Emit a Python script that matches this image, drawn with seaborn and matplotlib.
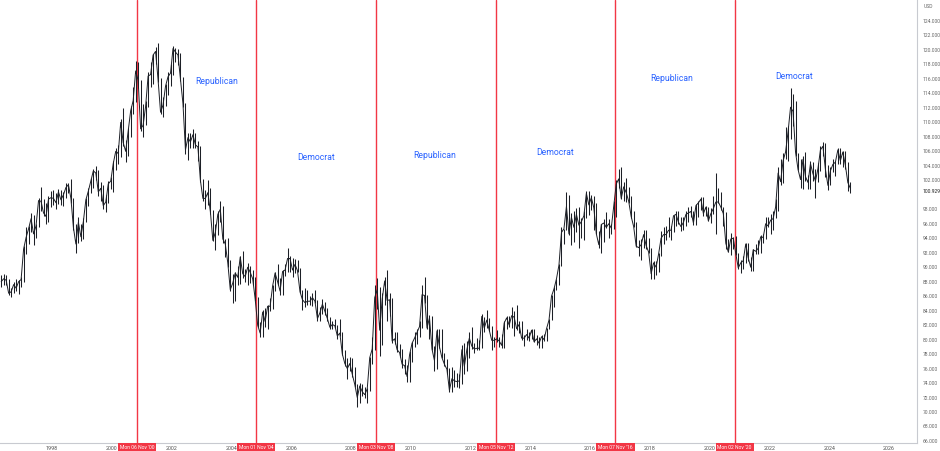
import numpy as np
import pandas as pd
import matplotlib
matplotlib.use("Agg")
import matplotlib.pyplot as plt
import seaborn as sns

# ---- Data: US Dollar Index, monthly bars Apr 1996 .. Sep 2024 ----
start_month = "1996-04"
end_month = "2024-09"

close = [
    88.0, 88.4, 88.2, 86.4, 86.6, 87.6, 87.1, 88.0, 88.3,                  # 1996 Apr-Dec
    92.5, 94.1, 95.3, 96.7, 94.6, 95.7, 99.2, 99.1, 97.5, 97.0, 99.4, 99.6,  # 1997
    99.5, 98.9, 100.4, 99.3, 100.0, 101.0, 101.4, 99.5, 95.5, 93.2, 96.2, 94.2,  # 1998
    96.3, 99.3, 100.5, 101.9, 103.3, 103.0, 100.4, 100.9, 98.5, 99.0, 101.5, 101.9,  # 1999
    104.3, 106.0, 105.7, 110.0, 107.2, 106.0, 108.8, 111.6, 113.0, 117.1, 115.8, 109.1,  # 2000
    109.6, 112.2, 116.4, 116.6, 119.3, 119.8, 115.9, 111.4, 112.4, 115.0, 116.3, 116.8,  # 2001
    120.2, 119.7, 119.3, 116.0, 112.6, 106.2, 107.9, 107.3, 108.3, 106.9, 106.6, 102.0,  # 2002
    99.5, 99.5, 100.3, 97.7, 93.7, 94.8, 97.3, 98.0, 93.9, 93.2, 90.6, 86.9,  # 2003
    87.8, 89.2, 88.6, 91.4, 89.1, 88.7, 90.0, 89.3, 88.4, 85.6, 82.0, 80.9,  # 2004
    83.8, 82.5, 84.6, 84.6, 87.4, 89.2, 88.0, 86.7, 89.4, 89.6, 91.2, 91.2,  # 2005
    89.6, 90.4, 89.5, 86.6, 85.5, 85.1, 85.3, 85.3, 85.8, 85.3, 82.9, 83.7,  # 2006
    84.9, 83.9, 82.9, 81.7, 82.1, 81.9, 80.5, 80.9, 78.0, 76.7, 76.0, 76.7,  # 2007
    75.2, 73.8, 72.0, 73.6, 72.8, 72.4, 73.2, 77.5, 78.7, 85.8, 86.9, 81.3,  # 2008
    85.6, 88.1, 85.4, 85.5, 79.8, 80.1, 78.6, 78.2, 76.6, 76.4, 74.9, 77.9,  # 2009
    79.5, 80.2, 81.0, 81.8, 86.2, 86.1, 81.6, 83.0, 78.7, 77.1, 81.2, 79.0,  # 2010
    77.5, 76.6, 75.9, 73.0, 74.6, 74.3, 74.2, 74.3, 78.6, 76.3, 78.6, 80.2,  # 2011
    79.1, 78.7, 78.8, 78.8, 83.2, 81.6, 82.7, 81.3, 79.9, 79.9, 80.1, 79.8,  # 2012
    79.2, 82.3, 83.0, 82.0, 83.3, 83.1, 81.5, 82.1, 80.2, 80.2, 80.7, 80.2,  # 2013
    81.3, 79.7, 80.1, 79.5, 80.4, 80.0, 81.5, 82.7, 86.0, 87.0, 88.4, 90.3,  # 2014
    94.8, 95.3, 98.4, 94.6, 96.9, 95.5, 97.3, 95.8, 96.3, 97.1, 100.2, 98.6,  # 2015
    99.6, 98.2, 94.6, 93.1, 95.9, 96.1, 95.5, 96.0, 95.4, 98.4, 101.5, 102.2,  # 2016
    99.5, 101.1, 100.3, 99.1, 97.0, 95.6, 92.9, 92.7, 93.1, 94.5, 93.0, 92.1,  # 2017
    89.1, 90.6, 90.0, 91.8, 94.0, 94.5, 94.5, 95.1, 95.1, 97.1, 97.3, 96.2,  # 2018
    95.6, 96.2, 97.3, 97.5, 97.7, 96.1, 98.5, 98.9, 99.4, 97.4, 98.3, 96.4,  # 2019
    97.4, 98.1, 99.0, 99.0, 98.3, 97.4, 93.3, 92.1, 93.9, 94.0, 91.9, 89.9,  # 2020
    90.6, 90.9, 93.2, 91.3, 90.0, 92.4, 92.2, 92.6, 94.2, 94.1, 96.0, 95.7,  # 2021
    96.5, 96.7, 98.3, 103.0, 101.8, 104.7, 105.9, 108.7, 112.1, 111.5, 105.9, 103.5,  # 2022
    102.1, 104.9, 102.5, 101.7, 104.3, 102.9, 101.9, 103.6, 106.2, 106.7, 103.5, 101.3,  # 2023
    103.3, 104.2, 104.5, 106.2, 104.7, 105.9, 104.1, 101.7, 100.9,          # 2024 Jan-Sep
]

high = [
    88.9, 89.1, 88.9, 88.3, 87.1, 87.9, 88.3, 88.2, 88.6,
    92.9, 95.5, 95.7, 97.5, 97.2, 96.0, 99.6, 101.1, 99.4, 98.8, 99.8, 100.5,
    100.7, 100.2, 100.8, 100.6, 100.4, 101.6, 101.6, 102.2, 99.6, 96.0, 97.0, 96.0,
    96.8, 99.6, 101.0, 102.3, 103.5, 104.0, 103.4, 101.8, 101.4, 100.0, 101.9, 102.4,
    104.6, 106.4, 106.9, 110.4, 112.0, 107.5, 109.2, 112.2, 114.9, 118.5, 118.4, 115.8,
    112.5, 112.9, 117.0, 118.3, 119.5, 120.4, 121.0, 116.1, 113.5, 115.3, 117.0, 118.0,
    120.5, 120.3, 120.1, 119.6, 116.2, 112.7, 108.5, 108.6, 109.1, 108.6, 107.4, 106.7,
    102.2, 100.6, 102.0, 100.9, 97.9, 96.0, 97.7, 99.1, 98.5, 93.9, 94.1, 91.0,
    89.0, 89.3, 90.2, 91.6, 92.2, 89.7, 90.6, 90.2, 89.6, 88.7, 85.9, 82.4,
    84.1, 84.3, 84.8, 85.8, 87.6, 89.4, 90.4, 88.5, 89.6, 90.4, 92.6, 91.5,
    91.3, 91.2, 91.0, 89.9, 86.9, 87.1, 86.9, 86.0, 86.4, 86.9, 85.5, 84.5,
    85.6, 85.2, 84.4, 83.1, 82.6, 82.9, 82.0, 82.8, 81.1, 78.5, 77.5, 77.6,
    77.4, 76.2, 73.9, 74.0, 73.8, 73.4, 73.3, 77.6, 80.3, 87.6, 88.5, 87.3,
    86.5, 88.6, 89.6, 86.5, 85.7, 81.0, 81.1, 79.4, 78.7, 77.3, 76.5, 78.4,
    79.6, 81.1, 81.4, 82.5, 87.6, 88.7, 86.2, 83.4, 83.2, 79.1, 81.4, 81.4,
    81.4, 78.2, 77.3, 76.1, 76.2, 75.8, 75.4, 75.2, 79.2, 79.5, 79.8, 81.1,
    81.8, 79.5, 80.2, 80.0, 83.5, 83.1, 84.1, 83.0, 81.9, 80.3, 81.3, 80.3,
    80.8, 82.5, 83.2, 83.2, 84.5, 83.9, 84.8, 82.6, 82.5, 80.6, 81.5, 81.0,
    81.5, 81.4, 80.6, 80.3, 80.6, 80.8, 81.6, 82.9, 86.2, 87.2, 88.4, 90.4,
    95.5, 95.3, 100.4, 100.0, 97.5, 97.8, 98.2, 98.3, 96.8, 97.7, 100.5, 100.5,
    100.0, 99.9, 98.8, 95.0, 96.0, 96.7, 97.6, 96.6, 96.0, 99.1, 102.1, 103.6,
    103.8, 101.8, 102.3, 101.1, 99.9, 97.8, 96.3, 93.8, 93.9, 95.2, 95.1, 94.0,
    92.6, 90.9, 90.8, 91.9, 95.0, 95.5, 95.7, 96.9, 95.7, 97.2, 97.7, 97.7,
    96.9, 97.0, 97.7, 98.3, 98.4, 97.8, 98.7, 99.1, 99.7, 99.7, 98.5, 98.3,
    98.2, 99.9, 103.0, 100.9, 100.4, 98.3, 97.6, 93.9, 94.7, 94.2, 94.3, 91.9,
    91.0, 91.6, 93.4, 93.4, 91.4, 92.5, 93.2, 93.7, 94.5, 94.6, 96.9, 96.9,
    97.4, 97.8, 99.4, 103.9, 105.0, 105.8, 109.3, 109.5, 114.8, 113.9, 113.0, 105.8,
    104.9, 105.4, 105.9, 102.8, 104.7, 104.5, 103.6, 104.4, 106.8, 107.3, 107.1, 104.1,
    103.8, 104.9, 104.7, 106.5, 106.5, 106.1, 106.1, 104.5, 101.8,
]

low = [
    87.2, 87.5, 87.6, 86.2, 85.9, 86.5, 86.7, 86.3, 87.3,
    88.0, 91.8, 93.2, 94.8, 93.0, 94.0, 95.5, 97.7, 97.1, 96.0, 96.3, 98.3,
    98.6, 98.1, 98.7, 98.6, 98.5, 99.5, 100.3, 98.9, 95.2, 91.9, 93.4, 93.6,
    93.9, 96.2, 98.4, 100.2, 100.9, 102.0, 99.8, 99.2, 98.1, 97.6, 98.9, 100.8,
    100.4, 103.4, 104.3, 105.2, 106.7, 104.5, 105.4, 108.0, 111.1, 112.8, 114.7, 108.8,
    108.0, 109.6, 112.1, 114.9, 115.3, 118.0, 115.6, 111.1, 110.7, 112.3, 113.8, 115.0,
    116.6, 118.4, 117.9, 115.7, 112.1, 105.6, 104.8, 106.5, 106.4, 106.4, 104.7, 101.8,
    99.1, 98.1, 98.6, 97.3, 93.6, 92.4, 94.4, 96.2, 93.3, 91.4, 90.0, 86.7,
    85.1, 85.3, 87.5, 87.7, 88.5, 88.0, 87.5, 87.8, 87.5, 85.3, 81.8, 80.4,
    80.4, 81.7, 81.5, 83.9, 84.2, 86.7, 87.6, 86.1, 86.1, 88.8, 89.4, 89.4,
    88.7, 89.2, 89.3, 86.4, 84.1, 84.5, 84.8, 84.8, 84.6, 85.1, 82.6, 82.5,
    83.6, 83.4, 82.6, 81.5, 81.4, 81.6, 80.1, 80.5, 77.9, 76.3, 74.5, 75.6,
    74.9, 73.5, 70.7, 71.3, 72.2, 71.9, 71.3, 72.9, 76.6, 78.6, 84.2, 77.7,
    79.3, 84.8, 82.6, 83.2, 79.5, 79.4, 78.3, 77.6, 76.1, 75.2, 74.2, 74.2,
    76.9, 79.0, 79.4, 80.3, 81.6, 85.1, 81.5, 80.1, 78.6, 75.6, 75.9, 78.8,
    77.4, 76.4, 75.3, 72.7, 72.8, 73.5, 73.4, 73.3, 73.8, 75.3, 75.7, 77.5,
    78.7, 78.1, 78.6, 78.6, 78.8, 81.1, 81.6, 81.2, 78.6, 79.0, 79.6, 79.0,
    78.9, 78.9, 81.5, 81.7, 81.6, 80.5, 81.3, 80.9, 79.9, 79.1, 80.0, 79.8,
    80.1, 79.7, 79.2, 78.9, 78.9, 79.8, 79.8, 81.5, 82.7, 84.5, 86.8, 87.6,
    90.2, 93.2, 95.1, 94.5, 93.1, 93.5, 94.9, 92.6, 94.1, 93.8, 96.8, 97.2,
    97.9, 95.2, 94.6, 92.6, 91.9, 93.5, 95.4, 94.1, 94.6, 95.3, 96.9, 100.9,
    99.4, 99.2, 99.0, 98.8, 96.8, 95.5, 92.8, 91.6, 91.0, 92.7, 92.5, 91.9,
    88.4, 88.3, 88.9, 89.3, 91.6, 93.2, 93.7, 94.2, 93.8, 94.8, 95.7, 95.9,
    95.0, 95.2, 95.7, 96.3, 96.9, 95.8, 95.8, 97.0, 97.9, 97.1, 97.1, 96.4,
    96.1, 97.3, 94.6, 98.8, 97.9, 95.7, 92.5, 92.1, 91.7, 92.5, 91.7, 89.7,
    89.2, 89.7, 90.6, 90.9, 89.5, 89.5, 91.8, 91.8, 91.9, 93.3, 93.9, 95.5,
    94.6, 95.1, 96.8, 97.7, 101.3, 101.6, 104.9, 104.6, 107.7, 109.5, 105.3, 103.4,
    101.0, 100.8, 101.9, 100.8, 100.8, 101.9, 99.6, 101.7, 103.3, 105.4, 102.5, 100.6,
    101.3, 103.1, 102.6, 104.3, 104.3, 103.9, 103.6, 100.5, 100.2,
]

election_dates = ["2000-11-06", "2004-11-01", "2008-11-03", "2012-11-05", "2016-11-07", "2020-11-02"]
election_labels = ["Mon 06 Nov '00", "Mon 01 Nov '04", "Mon 03 Nov '08",
                   "Mon 05 Nov '12", "Mon 07 Nov '16", "Mon 02 Nov '20"]

party_labels = ["Republican", "Democrat", "Republican", "Democrat", "Republican", "Democrat"]
party_x = [2003.51, 2006.83, 2010.81, 2014.83, 2018.74, 2022.82]
party_y = [115.7, 105.1, 105.4, 105.8, 116.0, 116.3]

year_ticks = list(range(1998, 2027, 2))
price_ticks = [v for v in range(66, 125, 2) if v != 100]
last_price = 100.929

# ---- Build frame ----
months = pd.period_range(start_month, end_month, freq="M")
t = months.year + (months.month - 0.5) / 12.0
df = pd.DataFrame({"t": t, "close": close, "high": high, "low": low})


def frac_year(s):
    ts = pd.Timestamp(s)
    ndays = 366 if ts.is_leap_year else 365
    return ts.year + (ts.dayofyear - 1) / ndays


election_x = [frac_year(d) for d in election_dates]

# ---- Plot ----
sns.set_theme(style="white")
plt.rcParams["font.family"] = ["Roboto", "DejaVu Sans"]

fig = plt.figure(figsize=(9.4, 4.51), dpi=100)
fig.patch.set_facecolor("white")
ax = fig.add_axes([0.0, 8 / 451, 917 / 940, 1 - 8 / 451])

bar_color = "#1c1f26"
ax.vlines(df["t"], df["low"], df["high"], color=bar_color, lw=0.75, zorder=3)
sns.lineplot(data=df, x="t", y="close", ax=ax, color=bar_color, lw=0.7, zorder=3)

red = "#f23645"
for xv, lab in zip(election_x, election_labels):
    ax.axvline(xv, color=red, lw=1.0, zorder=2)
    ax.annotate(lab, xy=(xv, 0), xycoords=("data", "axes fraction"),
                xytext=(0, -3.0), textcoords="offset points",
                ha="center", va="center", fontsize=3.6, color="white",
                bbox=dict(boxstyle="square,pad=0.35", fc=red, ec="none"),
                annotation_clip=False, zorder=10)

blue = "#2962ff"
for lab, xv, yv in zip(party_labels, party_x, party_y):
    ax.text(xv, yv, lab, color=blue, fontsize=6.2, ha="center", va="center", zorder=4)

ax.set_xlim(1996.252, 2026.94)
ax.set_ylim(65.72, 126.9)

ax.set_xticks(year_ticks)
ax.set_xticklabels([str(y) for y in year_ticks])
ax.yaxis.tick_right()
ax.set_yticks(price_ticks)
ax.set_yticklabels([f"{v:.3f}" for v in price_ticks])
ax.tick_params(axis="x", length=0, pad=2.2, labelsize=3.9, colors="#555555")
ax.tick_params(axis="y", length=0, pad=4, labelsize=3.6, colors="#666666")
ax.set_xlabel("")
ax.set_ylabel("")
ax.grid(False)

for side in ["left", "top"]:
    ax.spines[side].set_visible(False)
for side in ["right", "bottom"]:
    ax.spines[side].set_color("#c8cad0")
    ax.spines[side].set_linewidth(0.8)

ax.annotate(f"{last_price:.3f}", xy=(1.0, last_price), xycoords=("axes fraction", "data"),
            xytext=(4, -2.5), textcoords="offset points", ha="left", va="center",
            fontsize=3.6, color="#222222", annotation_clip=False)
fig.text(924 / 940, 1 - 6 / 451, "USD", fontsize=3.6, color="#666666", ha="left", va="center")

fig.savefig("out.png", dpi=100, facecolor="white")
